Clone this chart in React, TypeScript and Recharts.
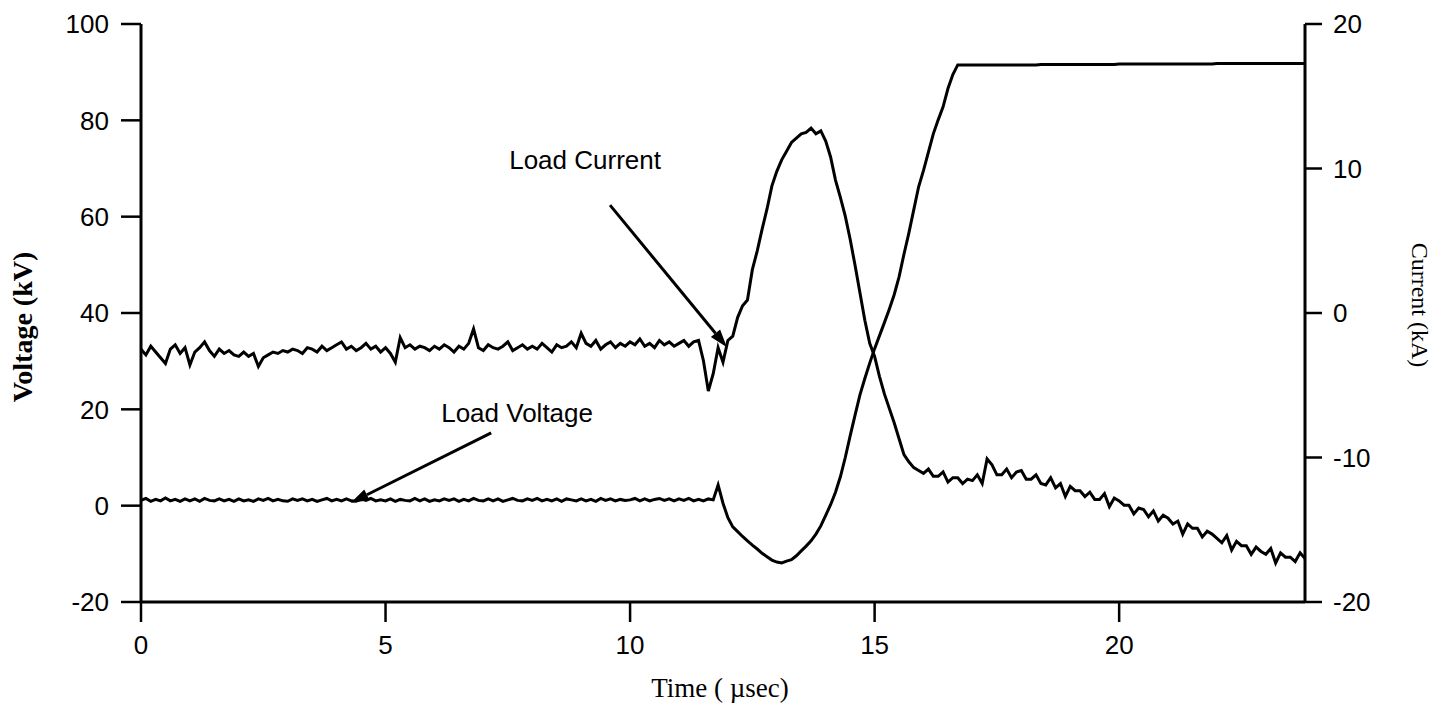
import React from "react";
import { LineChart, Line, XAxis, YAxis, ReferenceLine, ReferenceDot } from "recharts";

// digitizer sample spacing (µs)
const STEP_US = 0.1;

const timeTicks = [0, 5, 10, 15, 20];
const voltageTicks = [-20, 0, 20, 40, 60, 80, 100];
const currentTicks = [-20, -10, 0, 10, 20];

// Load voltage (kV), one value per 0.1 µs
const loadVoltageKV = [
  1.1, 1.5, 0.9, 1.3, 1.0, 1.6, 1.0, 1.3, 0.9, 1.4,
  1.0, 1.4, 0.9, 1.5, 1.1, 1.0, 1.4, 1.0, 1.3, 0.9,
  1.4, 1.0, 1.2, 0.9, 1.4, 1.1, 1.5, 1.0, 1.3, 1.0,
  0.9, 1.4, 1.1, 1.4, 1.0, 1.3, 0.9, 1.2, 1.5, 1.0,
  1.3, 1.0, 1.4, 1.0, 0.9, 1.4, 1.1, 1.5, 1.0, 1.2,
  1.0, 1.4, 0.9, 1.3, 1.1, 1.0, 1.5, 1.0, 1.4, 0.9,
  1.2, 1.0, 1.4, 1.1, 1.4, 0.9, 1.3, 1.0, 1.5, 1.1,
  1.0, 1.4, 1.0, 1.4, 0.9, 1.2, 1.5, 1.1, 1.0, 1.4,
  1.1, 1.5, 1.0, 1.3, 1.0, 1.4, 0.9, 1.4, 1.2, 1.0,
  1.4, 1.0, 1.3, 0.9, 1.5, 1.1, 1.4, 1.0, 1.3, 1.1,
  1.2, 1.5, 1.0, 1.4, 1.0, 1.3, 1.5, 1.1, 1.4, 1.0,
  1.4, 1.1, 1.5, 1.0, 1.3, 1.0, 1.4, 1.2, 4.3, 0.5,
  -2.5, -4.4, -5.4, -6.4, -7.3, -8.2, -9.0, -9.9, -10.6, -11.3,
  -11.7, -11.9, -11.5, -11.2, -10.4, -9.4, -8.4, -7.3, -5.9, -4.2,
  -2.0, 0.2, 2.8, 6.0, 10.0, 14.5, 18.8, 23.0, 26.4, 29.6,
  32.6, 35.3, 38.0, 40.8, 43.8, 47.5, 52.2, 56.6, 61.4, 66.2,
  69.6, 73.4, 77.2, 80.1, 82.8, 86.6, 89.5, 91.5, 91.5, 91.5,
  91.5, 91.5, 91.5, 91.5, 91.5, 91.5, 91.5, 91.5, 91.5, 91.5,
  91.5, 91.5, 91.5, 91.5, 91.6, 91.6, 91.6, 91.6, 91.6, 91.6,
  91.6, 91.6, 91.6, 91.6, 91.6, 91.6, 91.6, 91.6, 91.6, 91.6,
  91.7, 91.7, 91.7, 91.7, 91.7, 91.7, 91.7, 91.7, 91.7, 91.7,
  91.7, 91.7, 91.7, 91.7, 91.7, 91.7, 91.7, 91.7, 91.7, 91.7,
  91.8, 91.8, 91.8, 91.8, 91.8, 91.8, 91.8, 91.8, 91.8, 91.8,
  91.8, 91.8, 91.8, 91.8, 91.8, 91.8, 91.8, 91.8, 91.8,
];

// Load current (kA), same time base
const loadCurrentKA = [
  -2.5, -2.9, -2.3, -2.7, -3.1, -3.5, -2.5, -2.2, -2.8, -2.4,
  -3.6, -2.7, -2.4, -2.0, -2.6, -3.0, -2.5, -2.8, -2.6, -2.9,
  -3.0, -2.7, -3.0, -2.8, -3.7, -3.1, -2.9, -2.7, -2.8, -2.6,
  -2.7, -2.5, -2.6, -2.8, -2.4, -2.5, -2.7, -2.3, -2.6, -2.4,
  -2.2, -2.0, -2.5, -2.3, -2.6, -2.4, -2.1, -2.5, -2.3, -2.7,
  -2.4, -2.8, -3.4, -1.7, -2.4, -2.2, -2.5, -2.3, -2.4, -2.6,
  -2.3, -2.5, -2.2, -2.4, -2.7, -2.3, -2.5, -2.1, -1.1, -2.4,
  -2.6, -2.2, -2.4, -2.5, -2.3, -2.0, -2.6, -2.4, -2.2, -2.5,
  -2.3, -2.5, -2.1, -2.4, -2.7, -2.2, -2.4, -2.3, -2.0, -2.4,
  -1.4, -2.1, -2.3, -1.9, -2.5, -2.2, -2.0, -2.4, -2.1, -2.3,
  -2.0, -2.2, -1.8, -2.3, -2.1, -2.4, -1.9, -2.2, -2.0, -2.3,
  -2.1, -1.9, -2.3, -2.0, -1.9, -3.3, -5.4, -4.2, -2.4, -3.4,
  -1.9, -1.6, -0.3, 0.5, 0.9, 3.0, 4.3, 5.8, 7.2, 8.8,
  9.8, 10.6, 11.2, 11.8, 12.1, 12.4, 12.5, 12.8, 12.4, 12.6,
  11.9, 10.8, 9.2, 8.0, 6.7, 5.1, 3.3, 1.4, -0.5, -2.1,
  -3.0, -4.4, -5.6, -6.6, -7.6, -8.7, -9.8, -10.3, -10.7, -10.9,
  -11.1, -10.8, -11.3, -11.3, -11.0, -11.7, -11.4, -11.4, -11.8, -11.5,
  -11.6, -11.2, -11.8, -10.1, -10.5, -11.2, -11.2, -10.8, -11.4, -11.0,
  -10.9, -11.5, -11.5, -11.2, -11.8, -11.9, -11.4, -12.1, -11.8, -12.7,
  -12.0, -12.3, -12.3, -12.7, -12.4, -12.9, -12.9, -12.5, -13.4, -12.8,
  -13.0, -13.3, -13.3, -13.9, -13.5, -13.6, -14.1, -13.7, -14.4, -14.0,
  -14.2, -14.6, -14.4, -15.3, -14.6, -14.9, -14.9, -15.5, -15.1, -15.3,
  -15.6, -15.9, -15.4, -16.4, -15.8, -16.1, -16.1, -16.7, -16.2, -16.5,
  -16.7, -16.3, -17.3, -16.6, -16.9, -16.9, -17.2, -16.6, -17.0,
];

// annotation anchors, in data units (time µs, voltage-axis kV)
const currentLabelAt = { x: 9.08, y: 71.8 };
const currentArrow = [{ x: 9.59, y: 62.4 }, { x: 11.98, y: 32.9 }];
const voltageLabelAt = { x: 7.69, y: 19.2 };
const voltageArrow = [{ x: 7.16, y: 15.1 }, { x: 4.29, y: 0.6 }];

const data = loadVoltageKV.map((v, i) => ({
  t: +(i * STEP_US).toFixed(1),
  voltage: v,
  current: loadCurrentKA[i],
}));

const SANS = "'Liberation Sans', Arial, Helvetica, sans-serif";
const SERIF = "'Liberation Serif', 'Times New Roman', serif";
const tickStyle = { fill: "#000", fontSize: 26, fontFamily: SANS };

const Arrow = (props: any) => {
  const { x1, y1, x2, y2 } = props;
  const a = Math.atan2(y2 - y1, x2 - x1);
  const len = 18;
  const w = 6;
  const bx = x2 - len * Math.cos(a);
  const by = y2 - len * Math.sin(a);
  const pts = `${x2},${y2} ${bx + w * Math.sin(a)},${by - w * Math.cos(a)} ${bx - w * Math.sin(a)},${by + w * Math.cos(a)}`;
  return (
    <g>
      <line x1={x1} y1={y1} x2={bx} y2={by} stroke="#000" strokeWidth={3} />
      <polygon points={pts} fill="#000" />
    </g>
  );
};

export default function App() {
  return (
    <div style={{ position: "absolute", left: 0, top: 0, width: 1449, height: 708, background: "#fff" }}>
      <LineChart width={1449} height={708} data={data} margin={{ top: 24, right: 0, bottom: 0, left: 0 }}>
        <XAxis
          dataKey="t"
          type="number"
          domain={[0, 23.8]}
          ticks={timeTicks}
          allowDataOverflow
          height={106}
          tickSize={20}
          tickMargin={14}
          axisLine={{ stroke: "#000", strokeWidth: 3 }}
          tickLine={{ stroke: "#000", strokeWidth: 2.5 }}
          tick={tickStyle}
        />
        <YAxis
          yAxisId="left"
          domain={[-20, 100]}
          ticks={voltageTicks}
          width={141}
          tickSize={20}
          tickMargin={12}
          axisLine={{ stroke: "#000", strokeWidth: 3 }}
          tickLine={{ stroke: "#000", strokeWidth: 2.5 }}
          tick={tickStyle}
        />
        <YAxis
          yAxisId="right"
          orientation="right"
          domain={[-20, 20]}
          ticks={currentTicks}
          width={144}
          tickSize={17}
          tickMargin={11}
          axisLine={{ stroke: "#000", strokeWidth: 3 }}
          tickLine={{ stroke: "#000", strokeWidth: 2.5 }}
          tick={tickStyle}
        />
        <Line
          yAxisId="left"
          dataKey="voltage"
          type="linear"
          stroke="#000"
          strokeWidth={3}
          dot={false}
          isAnimationActive={false}
        />
        <Line
          yAxisId="right"
          dataKey="current"
          type="linear"
          stroke="#000"
          strokeWidth={3}
          dot={false}
          isAnimationActive={false}
        />
        <ReferenceLine yAxisId="left" segment={currentArrow} shape={Arrow} />
        <ReferenceLine yAxisId="left" segment={voltageArrow} shape={Arrow} />
        <ReferenceDot
          yAxisId="left"
          x={currentLabelAt.x}
          y={currentLabelAt.y}
          r={0}
          fill="none"
          stroke="none"
          label={{ value: "Load Current", position: "center", fill: "#000", fontSize: 26, fontFamily: SANS }}
        />
        <ReferenceDot
          yAxisId="left"
          x={voltageLabelAt.x}
          y={voltageLabelAt.y}
          r={0}
          fill="none"
          stroke="none"
          label={{ value: "Load Voltage", position: "center", fill: "#000", fontSize: 26, fontFamily: SANS }}
        />
      </LineChart>
      <svg width={1449} height={708} style={{ position: "absolute", left: 0, top: 0, pointerEvents: "none" }}>
        <text
          transform="translate(22,327) rotate(-90)"
          textAnchor="middle"
          dominantBaseline="central"
          fontFamily={SERIF}
          fontWeight="bold"
          fontSize={28}
        >
          Voltage (kV)
        </text>
        <text
          transform="translate(1420,305) rotate(90)"
          textAnchor="middle"
          dominantBaseline="central"
          fontFamily={SERIF}
          fontSize={24}
        >
          Current (kA)
        </text>
        <text x={720} y={697} textAnchor="middle" fontFamily={SERIF} fontSize={27}>
          Time ( µsec)
        </text>
      </svg>
    </div>
  );
}
